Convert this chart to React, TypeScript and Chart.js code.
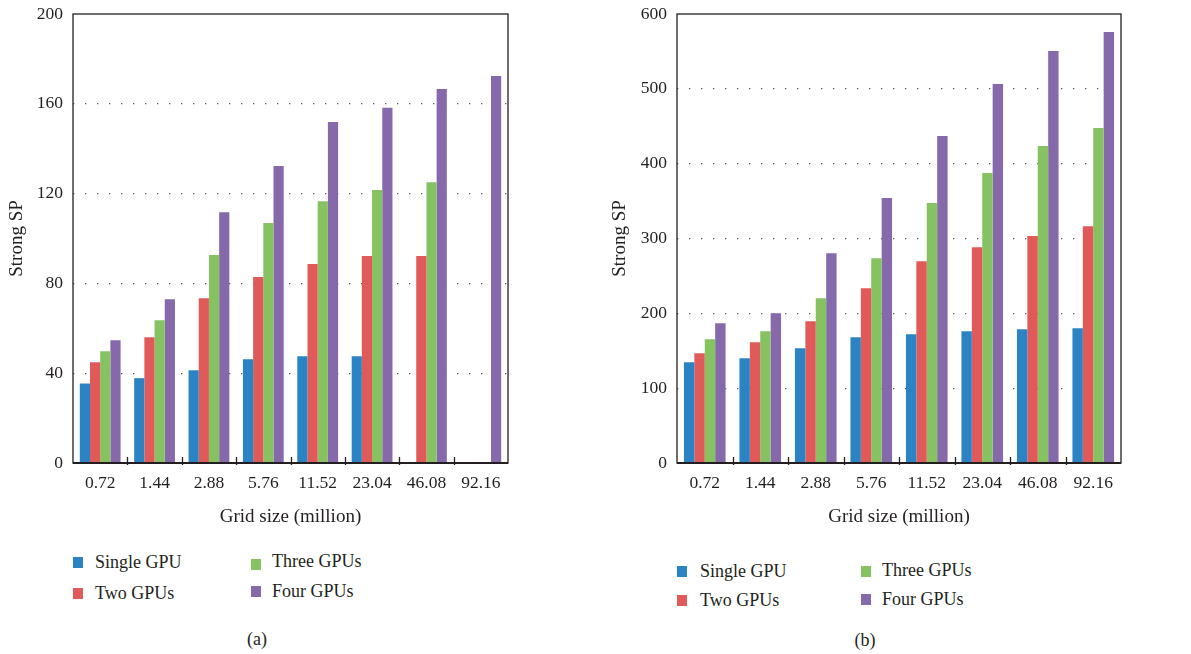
import React, { useEffect, useRef } from "react";
import { Chart, registerables } from "chart.js";

Chart.register(...registerables);

const FONT = "'Liberation Serif', 'Times New Roman', serif";
const TEXT = "#231f20";

const categories = ["0.72", "1.44", "2.88", "5.76", "11.52", "23.04", "46.08", "92.16"];
const seriesNames = ["Single GPU", "Two GPUs", "Three GPUs", "Four GPUs"];
const seriesColors = ["#2c83c4", "#e05a59", "#86c162", "#8569ab"];

// Panel (a)
const aSingle = [35.4, 37.8, 41.3, 46.2, 47.6, 47.6, null, null];
const aTwo = [44.9, 56.0, 73.4, 82.8, 88.6, 92.2, 92.2, null];
const aThree = [49.8, 63.6, 92.6, 106.9, 116.6, 121.6, 125.1, null];
const aFour = [54.7, 72.9, 111.7, 132.3, 151.9, 158.2, 166.6, 172.4];
const aYMax = 200;
const aYStep = 40;

// Panel (b)
const bSingle = [134.7, 140.0, 153.4, 168.1, 172.1, 176.1, 178.8, 180.1];
const bTwo = [146.7, 161.4, 189.5, 233.6, 269.7, 288.4, 303.2, 316.5];
const bThree = [165.4, 176.1, 220.2, 273.7, 347.3, 387.4, 423.5, 447.6];
const bFour = [186.8, 200.2, 280.4, 354.0, 436.9, 506.3, 550.5, 576.0];
const bYMax = 600;
const bYStep = 100;

const yTitle = "Strong SP";
const xTitle = "Grid size (million)";

const framePlugin = {
  id: "frame",
  afterDatasetsDraw(chart: any) {
    const { ctx, chartArea: a, scales } = chart;
    const x = scales.x;
    ctx.save();
    ctx.strokeStyle = "#231f20";
    ctx.lineWidth = 1.3;
    ctx.strokeRect(a.left, a.top, a.right - a.left, a.bottom - a.top);
    ctx.lineWidth = 2;
    ctx.beginPath();
    ctx.moveTo(a.left, a.bottom);
    ctx.lineTo(a.right, a.bottom);
    ctx.stroke();
    const half = (x.getPixelForValue(1) - x.getPixelForValue(0)) / 2;
    ctx.lineWidth = 1.3;
    ctx.beginPath();
    for (let i = 0; i < categories.length - 1; i++) {
      const px = Math.round(x.getPixelForValue(i) + half) + 0.5;
      ctx.moveTo(px, a.bottom + 2);
      ctx.lineTo(px, a.bottom - 6);
    }
    ctx.stroke();
    ctx.restore();
  },
};

type PanelProps = {
  left: number;
  series: (number | null)[][];
  yMax: number;
  yStep: number;
  yAxisWidth: number;
  padRight: number;
  yTitlePad: number;
};

function Panel({ left, series, yMax, yStep, yAxisWidth, padRight, yTitlePad }: PanelProps) {
  const ref = useRef<HTMLCanvasElement | null>(null);
  useEffect(() => {
    if (!ref.current) return;
    const chart = new Chart(ref.current, {
      type: "bar",
      data: {
        labels: categories,
        datasets: series.map((d, i) => ({
          label: seriesNames[i],
          data: d,
          backgroundColor: seriesColors[i],
          borderWidth: 0,
          categoryPercentage: 0.75,
          barPercentage: 1.0,
        })),
      },
      options: {
        responsive: false,
        animation: false,
        layout: { padding: { left: 0, top: 14, right: padRight, bottom: 0 } },
        plugins: { legend: { display: false }, tooltip: { enabled: false } },
        scales: {
          x: {
            grid: { display: false, drawTicks: false },
            border: { display: false },
            ticks: { color: TEXT, font: { family: FONT, size: 17.5 }, padding: 10, maxRotation: 0 },
            title: {
              display: true,
              text: xTitle,
              color: TEXT,
              font: { family: FONT, size: 19 },
              padding: { top: 0, bottom: 12 },
            },
            afterFit: (s: any) => {
              s.height = 77;
              s.paddingLeft = 0;
              s.paddingRight = 0;
            },
          },
          y: {
            min: 0,
            max: yMax,
            grid: {
              drawTicks: false,
              lineWidth: 1.3,
              color: (c: any) =>
                c.tick && (c.tick.value === 0 || c.tick.value === yMax) ? "rgba(0,0,0,0)" : "#555",
            },
            border: { display: false, dash: [1.3, 10.7], dashOffset: 0 },
            ticks: {
              stepSize: yStep,
              color: TEXT,
              font: { family: FONT, size: 17.5 },
              padding: 10,
            },
            title: {
              display: true,
              text: yTitle,
              color: TEXT,
              font: { family: FONT, size: 19 },
              padding: { top: yTitlePad, bottom: 0 },
            },
            afterFit: (s: any) => {
              s.width = yAxisWidth;
              s.paddingTop = 0;
              s.paddingBottom = 0;
            },
          },
        },
      },
      plugins: [framePlugin],
    });
    return () => chart.destroy();
  }, []);
  return (
    <canvas
      ref={ref}
      width={540}
      height={540}
      style={{ position: "absolute", left, top: 0, width: 540, height: 540 }}
    />
  );
}

type LegendPos = { sx: number; sy: number; tx: number; ty: number };

function Legend({ items }: { items: LegendPos[] }) {
  return (
    <>
      {items.map((p, i) => (
        <React.Fragment key={i}>
          <div
            style={{
              position: "absolute",
              left: p.sx,
              top: p.sy,
              width: 10,
              height: 11,
              background: seriesColors[i],
            }}
          />
          <div
            style={{
              position: "absolute",
              left: p.tx,
              top: p.ty - 12,
              height: 24,
              lineHeight: "24px",
              fontFamily: FONT,
              fontSize: 18,
              color: TEXT,
              whiteSpace: "nowrap",
            }}
          >
            {seriesNames[i]}
          </div>
        </React.Fragment>
      ))}
    </>
  );
}

function Caption({ text, cx, cy }: { text: string; cx: number; cy: number }) {
  return (
    <div
      style={{
        position: "absolute",
        left: cx - 30,
        width: 60,
        top: cy - 12,
        height: 24,
        lineHeight: "24px",
        textAlign: "center",
        fontFamily: FONT,
        fontSize: 18,
        color: TEXT,
      }}
    >
      {text}
    </div>
  );
}

export default function App() {
  const legendA: LegendPos[] = [
    { sx: 73, sy: 557, tx: 95, ty: 562 },
    { sx: 73, sy: 588, tx: 95, ty: 593 },
    { sx: 251, sy: 559, tx: 272, ty: 561 },
    { sx: 251, sy: 586, tx: 272, ty: 591 },
  ];
  const legendB: LegendPos[] = [
    { sx: 677, sy: 566, tx: 700, ty: 571 },
    { sx: 677, sy: 595, tx: 700, ty: 600 },
    { sx: 861, sy: 566, tx: 882, ty: 570 },
    { sx: 861, sy: 594, tx: 882, ty: 599 },
  ];
  return (
    <div style={{ position: "absolute", left: 0, top: 0, width: 1191, height: 654, background: "#fff" }}>
      <Panel
        left={0}
        series={[aSingle, aTwo, aThree, aFour]}
        yMax={aYMax}
        yStep={aYStep}
        yAxisWidth={73}
        padRight={32}
        yTitlePad={6}
      />
      <Panel
        left={600}
        series={[bSingle, bTwo, bThree, bFour]}
        yMax={bYMax}
        yStep={bYStep}
        yAxisWidth={77}
        padRight={19}
        yTitlePad={9}
      />
      <Legend items={legendA} />
      <Legend items={legendB} />
      <Caption text="(a)" cx={257} cy={639} />
      <Caption text="(b)" cx={865} cy={640} />
    </div>
  );
}
